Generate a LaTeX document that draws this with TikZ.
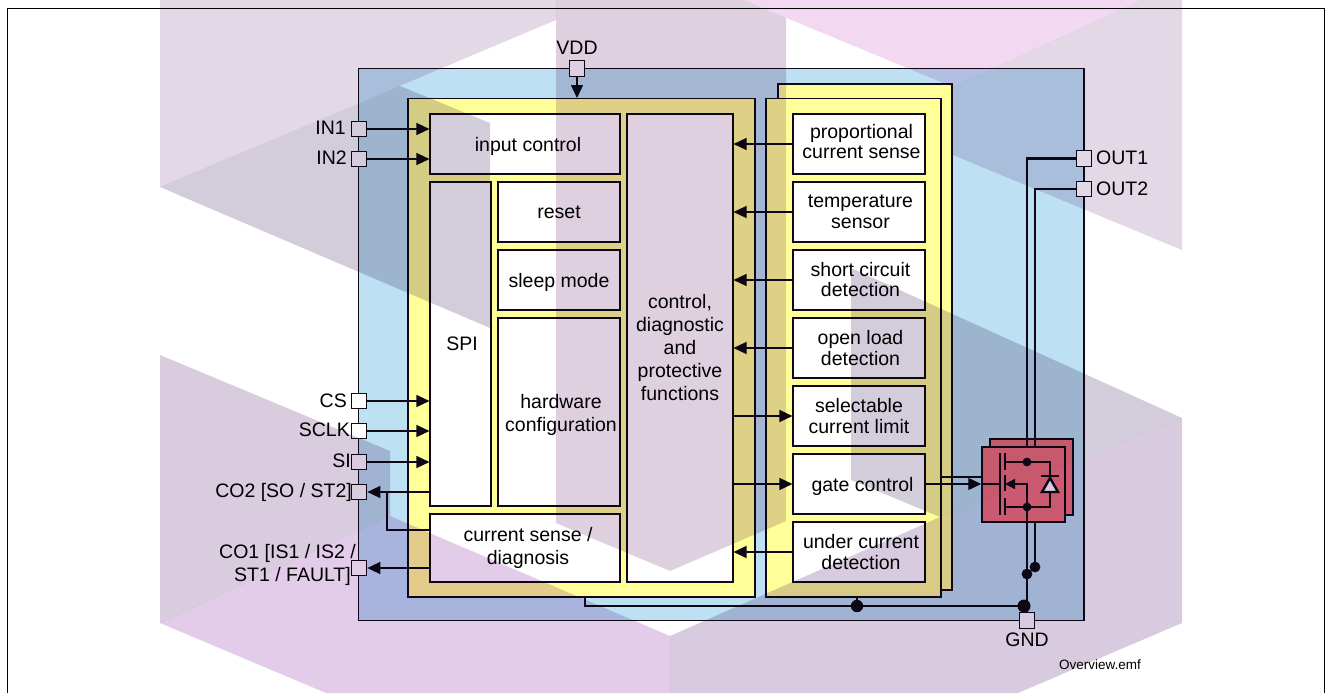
\documentclass[tikz,border=0pt]{standalone}
\usepackage{fontspec}
\setmainfont{Liberation Sans}
\usetikzlibrary{arrows.meta}
\definecolor{chipblue}{HTML}{BDE1F2}
\definecolor{panelyellow}{HTML}{FFFF99}
\definecolor{fetred}{HTML}{F0707F}
\definecolor{wireblack}{HTML}{100818}
\tikzset{
    cellbox/.style={draw=wireblack,line width=1.1pt,fill=white,inner sep=0pt,align=center,
        font=\fontsize{19.5}{21.5}\selectfont},
    pinbox/.style={draw=wireblack,line width=1.2pt,fill=white,minimum size=15.5pt,inner sep=0pt},
    pintext/.style={inner sep=0pt,font=\fontsize{19.5}{23}\selectfont},
    sig/.style={wireblack,line width=1.4pt,-{Triangle[length=13pt,width=12pt]}},
    plain/.style={wireblack,line width=1.4pt},
    power/.style={wireblack,line width=2.8pt},
    wmark/.style={blend mode=multiply,draw=none}
}
\begin{document}
\begin{tikzpicture}[x=1pt,y=-1pt]
    \useasboundingbox (0,0) rectangle (1332,693);
    %Frame
    \draw[black,line width=1.3pt] (7.5,693)--(7.5,8.5)--(1324.5,8.5)--(1324.5,693);
    %Chip
    \draw[wireblack,line width=1.3pt,fill=chipblue] (358.5,68.5) rectangle (1084,620.5);
    %Panels
    \draw[wireblack,line width=1.3pt,fill=panelyellow] (408,98.5) rectangle (755,597);
    \draw[wireblack,line width=1.3pt,fill=panelyellow] (778,84) rectangle (952,590);
    \draw[wireblack,line width=1.3pt,fill=panelyellow] (766,98.5) rectangle (941,597);
    %Logic blocks
    \node[cellbox,minimum width=190pt,minimum height=60pt,text depth=0pt] (inputctrl) at (525,144) {\hspace*{6pt}input control};
    \node[cellbox,minimum width=61pt,minimum height=324pt] (spi) at (460.5,344) {\hspace*{3pt}SPI};
    \node[cellbox,minimum width=122pt,minimum height=60pt] (reset) at (559,212) {reset};
    \node[cellbox,minimum width=122pt,minimum height=60pt,text depth=0pt] (sleepmode) at (559,280) {sleep mode};
    \node[cellbox,minimum width=122pt,minimum height=188pt,text height=44pt,font=\fontsize{19.5}{23}\selectfont] (hwconfig) at (559,412) {\hspace*{4pt}hardware\\\hspace*{4pt}configuration};
    \node[cellbox,minimum width=190pt,minimum height=68pt,font=\fontsize{19.5}{23}\selectfont] (cursense) at (525,548) {\hspace*{6pt}current sense /\\\hspace*{6pt}diagnosis};
    \node[cellbox,minimum width=106pt,minimum height=468pt,text depth=2pt,font=\fontsize{19.5}{23}\selectfont] (ctrl) at (680,348) {control,\\diagnostic\\and\\protective\\functions};
    %Channel blocks
    \node[cellbox,minimum width=132pt,minimum height=60pt,text depth=5pt,font=\fontsize{19.5}{20}\selectfont] (propsense) at (859,144) {\hspace*{5pt}proportional\\\hspace*{5pt}current sense};
    \node[cellbox,minimum width=132pt,minimum height=60pt] (tempsens) at (859,212) {\hspace*{3pt}temperature\\\hspace*{3pt}sensor};
    \node[cellbox,minimum width=132pt,minimum height=60pt,text depth=1.5pt,font=\fontsize{19.5}{20.5}\selectfont] (shortcirc) at (859,280) {\hspace*{3pt}short circuit\\\hspace*{3pt}detection};
    \node[cellbox,minimum width=132pt,minimum height=60pt] (openload) at (859,348) {\hspace*{3pt}open load\\\hspace*{3pt}detection};
    \node[cellbox,minimum width=132pt,minimum height=60pt] (curlimit) at (859,416) {selectable\\current limit};
    \node[cellbox,minimum width=132pt,minimum height=60pt,text depth=0pt] (gatectrl) at (859,484) {\hspace*{7pt}gate control};
    \node[cellbox,minimum width=132pt,minimum height=60pt] (undercur) at (859,552) {\hspace*{4pt}under current\\\hspace*{4pt}detection};
    %Pins
    \node[pinbox] (vdd) at (577,68.5) {};
    \node[pinbox] (inone) at (359,129) {};
    \node[pinbox] (intwo) at (359,159) {};
    \node[pinbox] (cs) at (359,401) {};
    \node[pinbox] (sclk) at (359,431) {};
    \node[pinbox] (si) at (359,462) {};
    \node[pinbox] (cotwo) at (359,492) {};
    \node[pinbox] (coone) at (359,568) {};
    \node[pinbox] (outone) at (1084,158.5) {};
    \node[pinbox] (outtwo) at (1084,189) {};
    \node[pinbox] (gnd) at (1027,620.5) {};
    %Pin names
    \node[pintext,above=5pt] (vddname) at (vdd.north) {VDD};
    \node[pintext,anchor=east] (inonename) at (346,128) {IN1};
    \node[pintext,anchor=east] (intwoname) at (347,158) {IN2};
    \node[pintext,anchor=east] (csname) at (347,401) {CS};
    \node[pintext,anchor=east] (sclkname) at (350,430) {SCLK};
    \node[pintext,anchor=east] (siname) at (351,461) {SI};
    \node[pintext,anchor=east] (cotwoname) at (352,492) {CO2 [SO / ST2]};
    \node[pintext,anchor=east,align=right] (coonename) at (356,565) {CO1 [IS1 / IS2 /\\ST1 / FAULT]\hspace*{5pt}};
    \node[pintext,anchor=west] (outonename) at (1096,158) {OUT1};
    \node[pintext,anchor=west] (outtwoname) at (1096,189) {OUT2};
    \node[pintext,below=4pt] (gndname) at (gnd.south) {GND};
    \node[inner sep=0pt,font=\fontsize{13.5}{15}\selectfont] (filename) at (1100,665) {Overview.emf};
    %Inputs
    \draw[sig] (vdd)--(577,98);
    \draw[sig] (inone)--(inone-|inputctrl.west);
    \draw[sig] (intwo)--(intwo-|inputctrl.west);
    \draw[sig] (cs)--(cs-|spi.west);
    \draw[sig] (sclk)--(sclk-|spi.west);
    \draw[sig] (si)--(si-|spi.west);
    %Outputs
    \draw[sig] (cotwo-|spi.west)--(cotwo);
    \draw[sig] (coone-|cursense.west)--(coone);
    \draw[plain] (387,492)--(387,530)--(430,530);
    %Control arrows
    \draw[sig] (propsense)--(propsense-|ctrl.east);
    \draw[sig] (tempsens)--(tempsens-|ctrl.east);
    \draw[sig] (shortcirc)--(shortcirc-|ctrl.east);
    \draw[sig] (openload)--(openload-|ctrl.east);
    \draw[sig] (undercur)--(undercur-|ctrl.east);
    \draw[sig] (ctrl.east|-curlimit)--(curlimit);
    \draw[sig] (ctrl.east|-gatectrl)--(gatectrl);
    %Power fets
    \draw[wireblack,line width=1.5pt,fill=fetred] (990,439) rectangle (1073,515);
    \draw[power] (outone)--(1027,158.5)--(1027,462);
    \draw[power] (outtwo)--(1035,189)--(1035,447);
    \node[draw=wireblack,line width=1.5pt,fill=fetred,minimum width=83pt,minimum height=75pt,inner sep=0pt] (fet) at (1023.5,484.5) {};
    \draw[sig] (gatectrl)--(fet.west|-gatectrl);
    \draw[plain] (941,477)--(fet.west|-0,477);
    %Fet symbol
    \draw[plain] (982,484)--(1000,484);
    \draw[wireblack,line width=2pt] (1000,453)--(1000,515);
    \draw[wireblack,line width=2pt] (1005,453)--(1005,470);
    \draw[wireblack,line width=2pt] (1005,475)--(1005,491);
    \draw[wireblack,line width=2pt] (1005,498)--(1005,515);
    \draw[plain] (1005,462)--(1050,462)--(1050,507)--(1005,507);
    \draw[plain,-{Triangle[length=10pt,width=10pt]}] (1027,507)--(1027,484)--(1005,484);
    \draw[wireblack,line width=2.4pt,fill=white] (1050,478)--(1058,492)--(1042,492)--cycle;
    \draw[wireblack,line width=2.4pt] (1041,476)--(1059,476);
    \fill[wireblack] (1027,462) circle (4.4pt);
    \fill[wireblack] (1027,507) circle (4.4pt);
    %Ground
    \draw[power] (1027,507)--(gnd);
    \draw[power] (1035,522)--(1035,567);
    \draw[plain] (585,597)--(585,606)--(1024,606);
    \draw[plain] (857,597)--(857,606);
    \fill[wireblack] (857,606) circle (6.2pt);
    \fill[wireblack] (1024,606) circle (6.5pt);
    \fill[wireblack] (1027,574) circle (5.4pt);
    \fill[wireblack] (1035,567) circle (5.4pt);
    %Watermark
    \fill[wmark,fill={rgb,255:red,227;green,216;blue,230}] (160,0)--(556,0)--(556,20)--(160,187)--cycle;
    \fill[wmark,fill={rgb,255:red,222;green,208;blue,222}] (556,0)--(743,0)--(786,18)--(786,521)--(670,571)--(556,523)--cycle;
    \fill[wmark,fill={rgb,255:red,211;green,204;blue,218}] (160,187)--(400,86)--(490,123)--(490,328)--cycle;
    \fill[wmark,fill={rgb,255:red,242;green,216;blue,240}] (743,0)--(1142,0)--(953,87)--cycle;
    \fill[wmark,fill={rgb,255:red,227;green,216;blue,230}] (1142,0)--(1182,0)--(1182,250)--(953,155)--(953,87)--cycle;
    \fill[wmark,fill={rgb,255:red,211;green,204;blue,218}] (851,268)--(1182,418)--(940,517)--(851,480)--cycle;
    \fill[wmark,fill={rgb,255:red,216;green,203;blue,223}] (670,636)--(940,517)--(1182,418)--(1182,623)--(1018,693)--(670,693)--cycle;
    \fill[wmark,fill={rgb,255:red,216;green,204;blue,222}] (160,355)--(390,451)--(390,516)--(160,623)--cycle;
    \fill[wmark,fill={rgb,255:red,227;green,203;blue,234}] (160,623)--(390,516)--(670,636)--(670,693)--(326,693)--cycle;
\end{tikzpicture}
\end{document}
